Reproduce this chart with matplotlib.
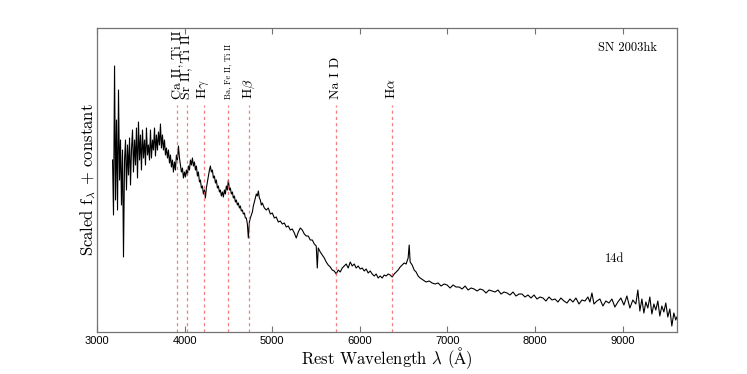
import matplotlib
matplotlib.use("Agg")
import matplotlib.pyplot as plt

plt.rcParams['font.family'] = ['cmr10', 'DejaVu Serif']
plt.rcParams['mathtext.fontset'] = 'cm'
plt.rcParams['axes.unicode_minus'] = False

# spectrum of SN 2003hk, 14d
wave = [3177, 3188, 3200, 3211, 3222, 3234, 3245, 3257, 3268, 3279,
        3291, 3302, 3314, 3325, 3336, 3348, 3359, 3371, 3382, 3393,
        3405, 3416, 3428, 3439, 3450, 3462, 3473, 3485, 3496, 3507,
        3519, 3530, 3542, 3553, 3564, 3576, 3587, 3599, 3610, 3621,
        3633, 3644, 3656, 3667, 3678, 3690, 3701, 3713, 3724, 3735,
        3747, 3758, 3770, 3781, 3792, 3804, 3815, 3827, 3838, 3849,
        3861, 3872, 3884, 3895, 3906, 3918, 3929, 3941, 3952, 3963,
        3975, 3986, 3998, 4009, 4020, 4032, 4043, 4055, 4066, 4077,
        4089, 4100, 4112, 4123, 4134, 4146, 4157, 4169, 4180, 4191,
        4203, 4214, 4226, 4237, 4248, 4260, 4271, 4283, 4294, 4305,
        4317, 4328, 4340, 4351, 4362, 4374, 4385, 4397, 4408, 4419,
        4431, 4442, 4454, 4465, 4476, 4488, 4499, 4511, 4522, 4533,
        4545, 4556, 4568, 4579, 4590, 4602, 4613, 4625, 4636, 4647,
        4659, 4670, 4682, 4693, 4704, 4716, 4727, 4739, 4750, 4761,
        4773, 4784, 4796, 4807, 4818, 4830, 4841, 4853, 4864, 4875,
        4887, 4910, 4932, 4955, 4978, 5001, 5024, 5046, 5069, 5092,
        5115, 5138, 5160, 5183, 5206, 5229, 5252, 5274, 5297, 5320,
        5343, 5366, 5388, 5411, 5434, 5457, 5480, 5502, 5514, 5525,
        5548, 5571, 5594, 5616, 5639, 5662, 5685, 5708, 5730, 5753,
        5776, 5799, 5822, 5844, 5867, 5890, 5913, 5936, 5958, 5981,
        6004, 6027, 6050, 6072, 6095, 6118, 6141, 6164, 6186, 6209,
        6232, 6255, 6278, 6300, 6323, 6346, 6369, 6392, 6414, 6437,
        6460, 6483, 6506, 6528, 6551, 6563, 6574, 6597, 6620, 6642,
        6665, 6688, 6722, 6756, 6791, 6825, 6859, 6893, 6927, 6962,
        6996, 7030, 7064, 7098, 7133, 7167, 7201, 7235, 7269, 7304,
        7338, 7372, 7406, 7440, 7475, 7509, 7543, 7577, 7611, 7646,
        7680, 7714, 7748, 7782, 7817, 7851, 7885, 7919, 7953, 7988,
        8022, 8056, 8090, 8124, 8159, 8193, 8227, 8261, 8295, 8330,
        8364, 8398, 8432, 8466, 8501, 8535, 8569, 8603, 8626, 8649,
        8672, 8706, 8740, 8774, 8808, 8843, 8877, 8911, 8945, 8979,
        9014, 9048, 9082, 9116, 9150, 9173, 9196, 9219, 9242, 9264,
        9287, 9310, 9333, 9356, 9378, 9401, 9424, 9447, 9470, 9492,
        9515, 9538, 9561, 9584, 9606, 9618]

flux = [1.72, 1.17, 2.66, 1.32, 2.12, 1.22, 2.42, 1.52, 1.92, 1.27,
        1.82, 0.75, 1.72, 1.92, 1.42, 1.87, 1.57, 1.94, 1.47, 1.82,
        2.02, 1.60, 1.92, 1.67, 2.04, 1.54, 2.10, 1.72, 1.97, 1.62,
        2.02, 1.74, 1.92, 1.67, 2.04, 1.77, 1.87, 1.72, 2.02, 1.74,
        1.92, 1.82, 2.04, 1.76, 1.97, 1.82, 2.00, 1.87, 2.08, 1.84,
        1.97, 1.82, 1.92, 1.77, 1.84, 1.74, 1.82, 1.69, 1.77, 1.65,
        1.72, 1.60, 1.70, 1.62, 1.77, 1.72, 1.86, 1.74, 1.67, 1.60,
        1.64, 1.54, 1.60, 1.55, 1.62, 1.57, 1.66, 1.62, 1.72, 1.67,
        1.74, 1.66, 1.70, 1.62, 1.66, 1.56, 1.60, 1.50, 1.52, 1.44,
        1.46, 1.38, 1.42, 1.34, 1.44, 1.50, 1.56, 1.62, 1.66, 1.60,
        1.62, 1.54, 1.56, 1.49, 1.52, 1.44, 1.46, 1.40, 1.42, 1.36,
        1.40, 1.35, 1.42, 1.38, 1.46, 1.42, 1.52, 1.42, 1.44, 1.38,
        1.40, 1.34, 1.36, 1.30, 1.32, 1.27, 1.29, 1.24, 1.26, 1.21,
        1.22, 1.18, 1.19, 1.14, 1.14, 1.08, 0.94, 1.10, 1.14, 1.17,
        1.20, 1.26, 1.30, 1.34, 1.38, 1.36, 1.41, 1.34, 1.32, 1.27,
        1.29, 1.24, 1.22, 1.24, 1.18, 1.19, 1.14, 1.15, 1.10, 1.11,
        1.08, 1.09, 1.05, 1.06, 1.02, 1.03, 0.99, 0.94, 1.00, 1.04,
        1.02, 0.98, 0.96, 0.96, 0.92, 0.92, 0.88, 0.86, 0.64, 0.84,
        0.80, 0.77, 0.74, 0.70, 0.67, 0.65, 0.62, 0.61, 0.58, 0.62,
        0.60, 0.64, 0.66, 0.68, 0.64, 0.70, 0.66, 0.68, 0.64, 0.66,
        0.63, 0.64, 0.61, 0.63, 0.59, 0.61, 0.58, 0.56, 0.58, 0.54,
        0.56, 0.54, 0.57, 0.56, 0.58, 0.57, 0.55, 0.58, 0.60, 0.62,
        0.65, 0.67, 0.69, 0.68, 0.74, 0.87, 0.70, 0.67, 0.62, 0.60,
        0.56, 0.54, 0.52, 0.50, 0.51, 0.49, 0.48, 0.49, 0.46, 0.48,
        0.47, 0.44, 0.47, 0.45, 0.45, 0.43, 0.46, 0.42, 0.44, 0.43,
        0.41, 0.43, 0.42, 0.39, 0.42, 0.41, 0.40, 0.42, 0.38, 0.40,
        0.39, 0.37, 0.40, 0.36, 0.38, 0.38, 0.35, 0.37, 0.34, 0.37,
        0.33, 0.35, 0.34, 0.31, 0.35, 0.32, 0.33, 0.30, 0.34, 0.31,
        0.29, 0.33, 0.30, 0.34, 0.28, 0.32, 0.31, 0.35, 0.30, 0.39,
        0.28, 0.31, 0.33, 0.26, 0.31, 0.29, 0.33, 0.25, 0.30, 0.34,
        0.27, 0.36, 0.24, 0.32, 0.28, 0.42, 0.21, 0.33, 0.19, 0.30,
        0.24, 0.35, 0.18, 0.28, 0.22, 0.31, 0.16, 0.26, 0.20, 0.29,
        0.15, 0.23, 0.06, 0.19, 0.12, 0.15]

# line identifications
line_labels = ['Ca II, Ti II', 'Sr II, Ti II', r'H$\gamma$', 'Ba, Fe II, Ti II',
               r'H$\beta$', 'Na I D', r'H$\alpha$']
line_waves = [3912, 4024, 4218, 4491, 4739, 5730, 6365]

fig = plt.figure(figsize=(7.47, 3.74), dpi=100)
ax = fig.add_axes([0.1299, 0.1123, 0.7764, 0.8128])

ax.plot(wave, flux, color='black', linewidth=0.8)

for lw, lab in zip(line_waves, line_labels):
    ax.plot([lw, lw], [0, 2.27], color='#f06060', linestyle='--', linewidth=0.9, dashes=(2.5, 2.5), alpha=0.8)
    fs = 6 if lab.startswith('Ba') else 10
    ax.text(lw, 2.33, lab, rotation=90, ha='center', va='bottom', fontsize=fs)

ax.text(0.914, 0.934, 'SN 2003hk', transform=ax.transAxes, ha='center', va='center', fontsize=9)
ax.text(0.893, 0.24, '14d', transform=ax.transAxes, ha='center', va='center', fontsize=9)

ax.set_xlim(3000, 9620)
ax.set_ylim(0, 3.04)
ax.set_yticks([])
ax.set_xticks([3000, 4000, 5000, 6000, 7000, 8000, 9000])
ax.set_xticklabels(['3000', '4000', '5000', '6000', '7000', '8000', '9000'],
                   family='Liberation Sans', fontsize=8)
ax.tick_params(axis='x', direction='in', top=True, length=4, color='0.45', pad=3)
for sp in ax.spines.values():
    sp.set_color('0.45')
    sp.set_linewidth(0.9)

ax.set_xlabel(r'Rest Wavelength $\lambda$ ($\mathrm{\AA}$)', fontsize=12)
ax.set_ylabel(r'Scaled f$_\lambda$ + constant', fontsize=12)
ax.xaxis.set_label_coords(0.5, -0.045)
ax.yaxis.set_label_coords(0.001, 0.5)

fig.savefig('out.png', dpi=100)
